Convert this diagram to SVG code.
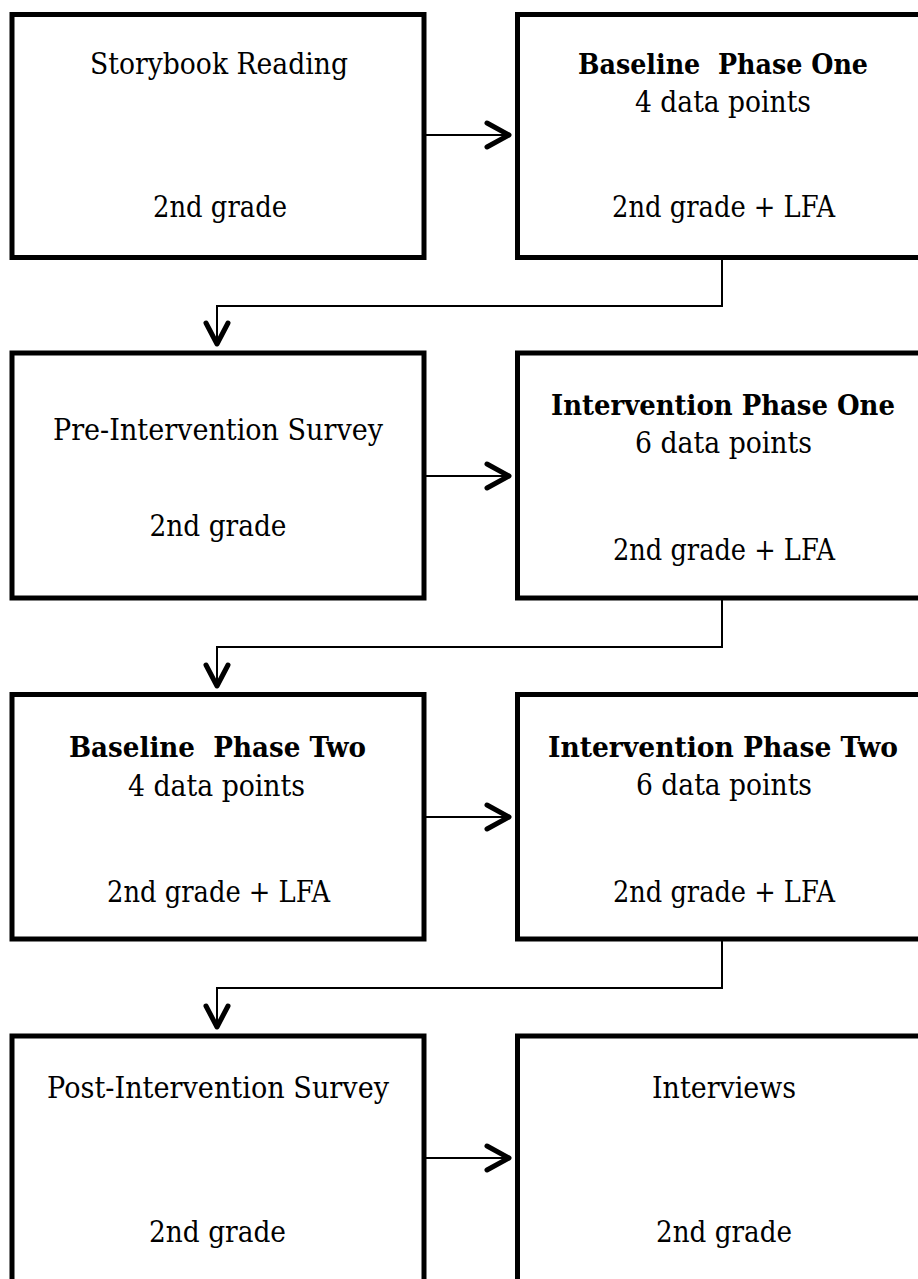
<svg xmlns="http://www.w3.org/2000/svg" width="918" height="1279" viewBox="0 0 918 1279">
<style>
.box{fill:#fff;stroke:#000;stroke-width:5;stroke-linejoin:miter}
.t{font-family:"DejaVu Serif","Liberation Serif",serif;font-size:30px;fill:#000;text-anchor:middle;white-space:pre}
.b{font-weight:bold;font-size:27px}
.ln{fill:none;stroke:#000;stroke-width:2}
.hd{fill:none;stroke:#000;stroke-width:5;stroke-linecap:round;stroke-linejoin:round}
</style>
<rect x="0" y="0" width="918" height="1279" fill="#fff"/>
<g id="connectors">
  <path class="ln" d="M424 135 H509"/>
  <path class="hd" d="M487 123 L509 135 L487 147"/>
  <path class="ln" d="M722 257 V306 H217 V343"/>
  <path class="hd" d="M206 323 L217 344 L228 323"/>
  <path class="ln" d="M424 476 H509"/>
  <path class="hd" d="M487 464 L509 476 L487 488"/>
  <path class="ln" d="M722 598 V647 H217 V685"/>
  <path class="hd" d="M206 665 L217 686 L228 665"/>
  <path class="ln" d="M424 817 H509"/>
  <path class="hd" d="M487 805 L509 817 L487 829"/>
  <path class="ln" d="M722 939 V988 H217 V1026"/>
  <path class="hd" d="M206 1006 L217 1027 L228 1006"/>
  <path class="ln" d="M424 1158 H509"/>
  <path class="hd" d="M487 1146 L509 1158 L487 1170"/>
</g>
<g id="storybook">
  <rect class="box" x="12" y="14.5" width="412" height="243"/>
  <text class="t" x="219" y="74" textLength="258" lengthAdjust="spacingAndGlyphs">Storybook Reading</text>
  <text class="t" x="220" y="217" textLength="134" lengthAdjust="spacingAndGlyphs">2nd grade</text>
</g>
<g id="baseline1">
  <rect class="box" x="517.5" y="14.5" width="412" height="243"/>
  <text class="t b" x="723" y="74" textLength="290" lengthAdjust="spacingAndGlyphs">Baseline  Phase One</text>
  <text class="t" x="723" y="112" textLength="176" lengthAdjust="spacingAndGlyphs">4 data points</text>
  <text class="t" x="723.5" y="217" textLength="223" lengthAdjust="spacingAndGlyphs">2nd grade + LFA</text>
</g>
<g id="presurvey">
  <rect class="box" x="12" y="353" width="412" height="245"/>
  <text class="t" x="218" y="440" textLength="330" lengthAdjust="spacingAndGlyphs">Pre-Intervention Survey</text>
  <text class="t" x="218" y="536" textLength="137" lengthAdjust="spacingAndGlyphs">2nd grade</text>
</g>
<g id="intervention1">
  <rect class="box" x="517.5" y="353" width="412" height="245"/>
  <text class="t b" x="723" y="415" textLength="344" lengthAdjust="spacingAndGlyphs">Intervention Phase One</text>
  <text class="t" x="723.5" y="453" textLength="177" lengthAdjust="spacingAndGlyphs">6 data points</text>
  <text class="t" x="724" y="560" textLength="222" lengthAdjust="spacingAndGlyphs">2nd grade + LFA</text>
</g>
<g id="baseline2">
  <rect class="box" x="12" y="694.5" width="412" height="244.5"/>
  <text class="t b" x="217.5" y="757" textLength="297" lengthAdjust="spacingAndGlyphs">Baseline  Phase Two</text>
  <text class="t" x="216.5" y="796" textLength="177" lengthAdjust="spacingAndGlyphs">4 data points</text>
  <text class="t" x="218.5" y="902" textLength="223" lengthAdjust="spacingAndGlyphs">2nd grade + LFA</text>
</g>
<g id="intervention2">
  <rect class="box" x="517.5" y="694.5" width="412" height="244.5"/>
  <text class="t b" x="723" y="757" textLength="350" lengthAdjust="spacingAndGlyphs">Intervention Phase Two</text>
  <text class="t" x="724" y="795" textLength="176" lengthAdjust="spacingAndGlyphs">6 data points</text>
  <text class="t" x="724" y="902" textLength="222" lengthAdjust="spacingAndGlyphs">2nd grade + LFA</text>
</g>
<g id="postsurvey">
  <rect class="box" x="12" y="1036" width="412" height="250"/>
  <text class="t" x="218" y="1098" textLength="342" lengthAdjust="spacingAndGlyphs">Post-Intervention Survey</text>
  <text class="t" x="217.5" y="1242" textLength="137" lengthAdjust="spacingAndGlyphs">2nd grade</text>
</g>
<g id="interviews">
  <rect class="box" x="517.5" y="1036" width="412" height="250"/>
  <text class="t" x="724" y="1098" textLength="144" lengthAdjust="spacingAndGlyphs">Interviews</text>
  <text class="t" x="724" y="1242" textLength="136" lengthAdjust="spacingAndGlyphs">2nd grade</text>
</g>
</svg>
